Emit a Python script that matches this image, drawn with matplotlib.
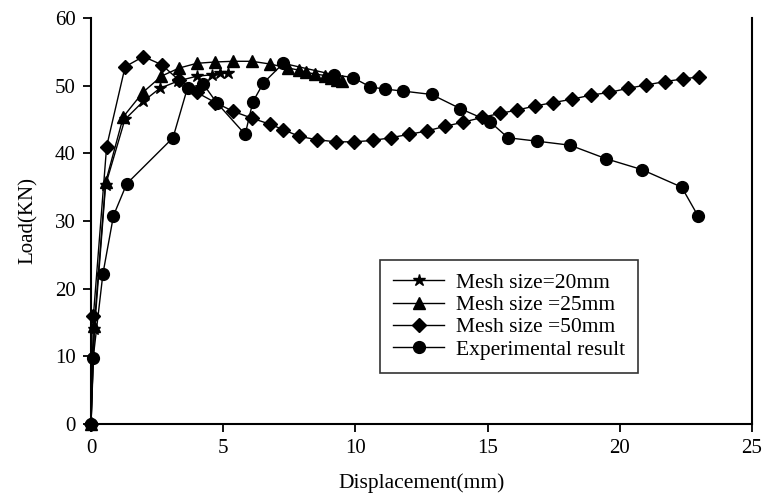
import matplotlib
matplotlib.use("Agg")
import matplotlib.pyplot as plt

plt.rcParams['font.family'] = ['Liberation Serif', 'DejaVu Serif']

# Mesh size = 20 mm (stars)
x20 = [0.0, 0.13, 0.55, 1.28, 1.98, 2.6, 3.3, 4.0, 4.56, 4.88, 5.19]
y20 = [0.0, 14.0, 35.3, 45.0, 47.7, 49.6, 50.7, 51.4, 51.6, 51.8, 51.9]

# Mesh size = 25 mm (triangles)
x25 = [0.0, 0.12, 0.55, 1.22, 1.96, 2.66, 3.33, 4.0, 4.69, 5.38, 6.08, 6.77,
       7.46, 7.86, 8.12, 8.48, 8.86, 9.06, 9.3, 9.48]
y25 = [0.0, 14.5, 35.7, 45.4, 49.0, 51.4, 52.6, 53.3, 53.5, 53.6, 53.6, 53.2,
       52.6, 52.3, 52.0, 51.7, 51.5, 51.2, 50.9, 50.7]

# Mesh size = 50 mm (diamonds)
x50 = [0.0, 0.09, 0.59, 1.29, 1.98, 2.67, 3.33, 4.0, 4.7, 5.38, 6.08, 6.77,
       7.27, 7.88, 8.56, 9.27, 9.95, 10.65, 11.33, 12.02, 12.7, 13.39, 14.08,
       14.78, 15.47, 16.12, 16.8, 17.48, 18.2, 18.9, 19.6, 20.3, 21.0, 21.7,
       22.4, 23.0]
y50 = [0.0, 16.0, 41.0, 52.8, 54.3, 53.1, 50.8, 49.0, 47.5, 46.2, 45.2, 44.3,
       43.5, 42.5, 42.0, 41.7, 41.7, 41.9, 42.3, 42.8, 43.3, 44.0, 44.6,
       45.3, 45.9, 46.4, 47.0, 47.5, 48.0, 48.6, 49.0, 49.6, 50.1, 50.6,
       51.0, 51.3]

# Experimental result (circles)
xexp = [0.0, 0.08, 0.45, 0.85, 1.35, 3.1, 3.65, 4.25, 4.75, 5.83, 6.12, 6.52,
        7.27, 9.2, 9.9, 10.57, 11.1, 11.8, 12.88, 13.97, 15.08, 15.77, 16.86,
        18.12, 19.48, 20.83, 22.34, 22.95]
yexp = [0.0, 9.7, 22.2, 30.8, 35.5, 42.3, 49.7, 50.2, 47.5, 42.8, 47.6, 50.4,
        53.3, 51.6, 51.2, 49.8, 49.5, 49.2, 48.7, 46.6, 44.7, 42.3, 41.8,
        41.2, 39.2, 37.6, 35.0, 30.8]

x_ticks = [0, 5, 10, 15, 20, 25]
y_ticks = [0, 10, 20, 30, 40, 50, 60]

fig = plt.figure(figsize=(7.63, 4.97), dpi=100)
ax = fig.add_axes([0.1193, 0.1469, 0.8663, 0.8169])

line_kw = dict(color='black', linewidth=1.0, markerfacecolor='black',
               markeredgecolor='black')
ax.plot(x20, y20, marker='*', markersize=9, label='Mesh size=20mm', **line_kw)
ax.plot(x25, y25, marker='^', markersize=8, label='Mesh size =25mm', **line_kw)
ax.plot(x50, y50, marker='D', markersize=7.5, label='Mesh size =50mm', **line_kw)
ax.plot(xexp, yexp, marker='o', markersize=8.5, label='Experimental result', **line_kw)

ax.set_xlim(0, 25)
ax.set_ylim(0, 60)
ax.set_xticks(x_ticks)
ax.set_yticks(y_ticks)
ax.tick_params(direction='out', length=6, width=1.3, labelsize=15, pad=5)
ax.spines['top'].set_visible(False)
for side in ('left', 'bottom', 'right'):
    ax.spines[side].set_linewidth(1.5)
for ln in ax.lines:
    ln.set_clip_on(False)

ax.set_xlabel('Displacement(mm)', fontsize=15.5, labelpad=11)
ax.set_ylabel('Load(KN)', fontsize=15, labelpad=12)

leg = ax.legend(loc='upper left', bbox_to_anchor=(0.437, 0.404),
                borderaxespad=0, fontsize=15.5, frameon=True, fancybox=False,
                handlelength=2.4, labelspacing=0.1, borderpad=0.6,
                handletextpad=0.55)
leg.get_frame().set_edgecolor('black')
leg.get_frame().set_linewidth(1.2)

fig.savefig('out.png', dpi=100)
